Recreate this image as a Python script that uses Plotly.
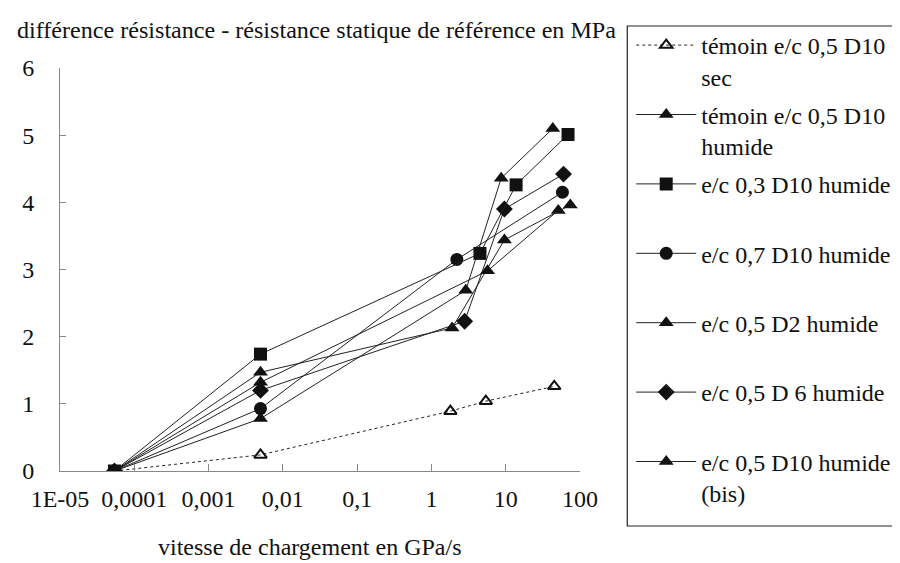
import plotly.graph_objects as go

# ---- data ----
x_ticks = [1e-5, 1e-4, 1e-3, 1e-2, 1e-1, 1, 10, 100]
x_tick_text = ["1E-05", "0,0001", "0,001", "0,01", "0,1", "1", "10", "100"]
y_ticks = [0, 1, 2, 3, 4, 5, 6]

names = [
    "témoin e/c 0,5 D10<br>sec",
    "témoin e/c 0,5 D10<br>humide",
    "e/c 0,3 D10 humide<br>\u00a0",
    "e/c 0,7 D10 humide<br>\u00a0",
    "e/c 0,5 D2 humide<br>\u00a0",
    "e/c 0,5 D 6 humide<br>\u00a0",
    "e/c 0,5 D10 humide<br>(bis)",
]

sec_x = [5.4e-5, 0.005, 1.8, 5.4, 45]
sec_y = [0, 0.24, 0.89, 1.04, 1.26]

hum_x = [5.4e-5, 0.005, 1.9, 9.6, 74]
hum_y = [0, 1.47, 2.13, 3.44, 3.96]

ec03_x = [5.4e-5, 0.005, 4.5, 13.8, 69]
ec03_y = [0, 1.74, 3.24, 4.26, 5.01]

ec07_x = [5.4e-5, 0.005, 2.2, 58]
ec07_y = [0, 0.93, 3.15, 4.15]

d2_x = [5.4e-5, 0.005, 2.9, 8.7, 43]
d2_y = [0, 0.78, 2.69, 4.36, 5.10]

d6_x = [5.4e-5, 0.005, 2.8, 9.6, 60]
d6_y = [0, 1.20, 2.23, 3.90, 4.42]

bis_x = [5.4e-5, 0.005, 5.7, 51]
bis_y = [0, 1.32, 2.98, 3.88]

FONT = "Liberation Serif, Times New Roman, DejaVu Serif, serif"
INK = "#111111"

fig = go.Figure()

def add(x, y, name, symbol, rank, dash="solid", size=13, open_=False):
    marker = dict(symbol=symbol, size=size, color=INK,
                  line=dict(color=INK, width=2 if open_ else 0))
    fig.add_trace(go.Scatter(
        x=x, y=y, name=name, mode="lines+markers",
        line=dict(color="#222222", width=1, dash=dash),
        marker=marker, legendrank=rank, legendgroup="g%d" % rank,
    ))

add(sec_x, sec_y, names[0], "triangle-up-open", 1, dash="dot", size=11, open_=True)
add(hum_x, hum_y, names[1], "triangle-up", 2)
add(ec07_x, ec07_y, names[3], "circle", 4)
add(d2_x, d2_y, names[4], "triangle-up", 5)
add(d6_x, d6_y, names[5], "diamond", 6)
add(bis_x, bis_y, names[6], "triangle-up", 7)
add(ec03_x, ec03_y, names[2], "square", 3)

L, R, T, B = 52, 320, 60, 100
W, H = 900, 563
pw, ph = W - L - R, H - T - B

def px(xp):
    return (xp - L) / pw

def py(yp):
    return (H - B - yp) / ph

fig.update_layout(
    width=W, height=H,
    margin=dict(l=L, r=R, t=T, b=B),
    paper_bgcolor="white", plot_bgcolor="white",
    font=dict(family=FONT, size=24, color=INK),
    showlegend=True,
    legend=dict(
        x=px(632), y=py(15), xanchor="left", yanchor="top",
        bgcolor="rgba(0,0,0,0)", borderwidth=0,
        font=dict(family=FONT, size=24, color=INK),
        valign="top", itemwidth=60, tracegroupgap=4,
        traceorder="grouped", maxheight=700,
    ),
    xaxis=dict(
        type="log", range=[-5, 2],
        tickvals=x_ticks, ticktext=x_tick_text,
        ticks="inside", ticklen=7, tickcolor="#888888",
        showline=True, linecolor="#888888", linewidth=1,
        showgrid=False, zeroline=False,
        ticklabelstandoff=6,
        tickfont=dict(family=FONT, size=24, color=INK),
    ),
    yaxis=dict(
        range=[0, 6], tickvals=y_ticks,
        ticks="inside", ticklen=6, tickcolor="#888888",
        showline=True, linecolor="#888888", linewidth=1,
        showgrid=False, zeroline=False,
        ticklabelstandoff=20,
        tickfont=dict(family=FONT, size=24, color=INK),
    ),
    shapes=[
        dict(type="rect", xref="paper", yref="paper",
             x0=px(628), x1=px(960), y0=py(518), y1=py(18),
             line=dict(color="#222222", width=1.2), fillcolor="rgba(0,0,0,0)"),
    ],
    annotations=[
        dict(text="différence résistance - résistance statique de référence en MPa",
             xref="paper", yref="paper", x=px(6), y=py(22),
             xanchor="left", yanchor="middle", showarrow=False,
             font=dict(family=FONT, size=24.1, color=INK)),
        dict(text="vitesse de chargement en GPa/s",
             xref="paper", yref="paper", x=px(305), y=py(539),
             xanchor="center", yanchor="middle", showarrow=False,
             font=dict(family=FONT, size=24, color=INK)),
    ],
)

fig.write_html("out.html")
